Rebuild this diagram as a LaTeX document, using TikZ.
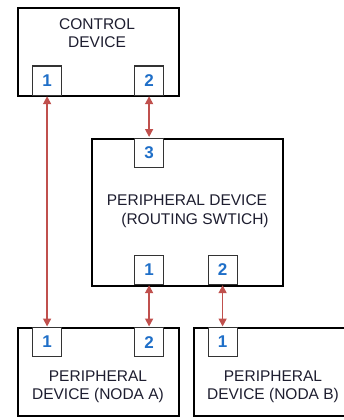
\documentclass[tikz,border=0pt]{standalone}
\usepackage{fontspec}
\setmainfont{Liberation Sans}
\usetikzlibrary{arrows.meta}
\definecolor{txt}{HTML}{1E1E30}
\definecolor{portblue}{HTML}{1F6FC8}
\definecolor{linkred}{HTML}{C0504D}
\tikzset{
  devbox/.style={draw=black, line width=2.2pt, fill=white, inner sep=0pt, anchor=north west},
  portbox/.style={draw=black!80, line width=1.2pt, fill=white, inner sep=0pt,
    minimum width=29pt, minimum height=29pt, anchor=north west,
    text=portblue, font=\fontsize{17}{17}\selectfont\bfseries},
  lbl/.style={text=txt, font=\fontsize{15.5}{18}\selectfont, align=center, inner sep=0pt},
  link/.style={draw=linkred, line width=1.6pt, {Triangle[length=8pt,width=8pt]}-{Triangle[length=8pt,width=8pt]}, shorten <=0.5pt, shorten >=0.5pt}
}
\begin{document}
\begin{tikzpicture}[x=1pt,y=-1pt]
\useasboundingbox (0,0) rectangle (344,420);
\clip (0,0) rectangle (344,420);
% devices
\node[devbox, minimum width=161pt, minimum height=88pt] (ctl) at (17,7) {};
\node[devbox, minimum width=191pt, minimum height=147pt] (rt) at (90.5,137.5) {};
\node[devbox, minimum width=161pt, minimum height=88pt] (na) at (17,327) {};
\node[devbox, minimum width=170pt, minimum height=88pt] (nb) at (193,327) {};
% labels
\node[lbl] (ctltxt) at (97,33) {CONTROL\\DEVICE};
\node[lbl] (rt1) at (187,200) {PERIPHERAL DEVICE};
\node[lbl] (rt2) at (195,220) {(ROUTING SWTICH)};
\node[lbl] (natxt) at (98,387) {PERIPHERAL\\DEVICE (NODA A)};
\node[lbl] (nbtxt) at (273,387) {PERIPHERAL\\DEVICE (NODA B)};
% ports
\node[portbox] (c1) at (32,65.5) {1};
\node[portbox] (c2) at (134,65.5) {2};
\node[portbox] (r3) at (134,137.5) {3};
\node[portbox] (r1) at (134,254.5) {1};
\node[portbox] (r2) at (207.5,254.5) {2};
\node[portbox] (a1) at (32,327) {1};
\node[portbox] (a2) at (134,327) {2};
\node[portbox] (b1) at (207.5,327) {1};
% links
\draw[link] (c1.south) -- (a1.north);
\draw[link] (c2.south) -- (r3.north);
\draw[link] (r1.south) -- (a2.north);
\draw[link] (r2.south) -- (b1.north);
\end{tikzpicture}
\end{document}
